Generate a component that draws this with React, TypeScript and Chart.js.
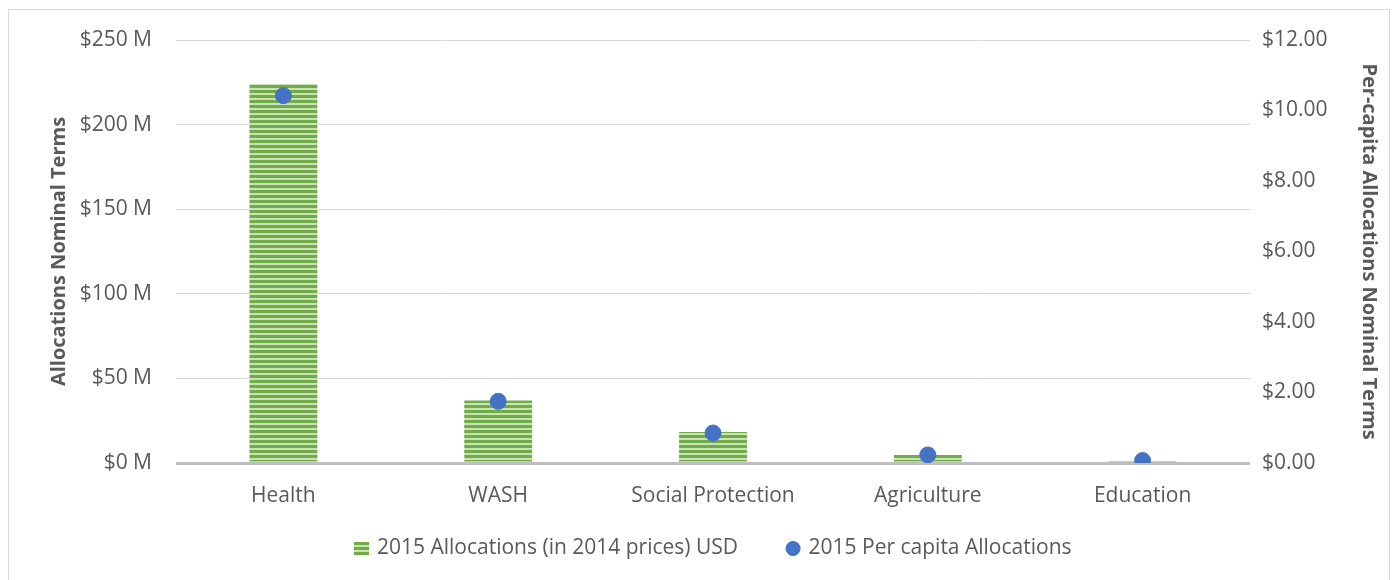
import React, { useEffect, useRef } from "react";
import { Chart, registerables } from "chart.js";

Chart.register(...registerables);

const categories = ["Health", "WASH", "Social Protection", "Agriculture", "Education"];
const allocationsM = [224, 37, 18.3, 4.7, 1.2];
const perCapita = [10.42, 1.75, 0.85, 0.23, 0.07];
const barLabel = "2015 Allocations (in 2014 prices) USD";
const dotLabel = "2015 Per capita Allocations";
const leftTicksM = [0, 50, 100, 150, 200, 250];
const rightTicks = [0, 2, 4, 6, 8, 10, 12];

const FONT = "'Open Sans', sans-serif";
const TEXT = "#595959";
const FS = 21;
const FS_TITLE = 20;

function stripes(w: number, h: number): HTMLCanvasElement {
  const c = document.createElement("canvas");
  c.width = w;
  c.height = h;
  const ctx = c.getContext("2d");
  if (ctx) {
    ctx.fillStyle = "#C9E2B8";
    ctx.fillRect(0, 0, w, h);
    ctx.fillStyle = "#70AD47";
    for (let y = 0; y < h; y += 5) ctx.fillRect(0, y, w, 3);
  }
  return c;
}

function makePattern(): CanvasPattern | string {
  const c = stripes(6, 5);
  const ctx = c.getContext("2d");
  const p = ctx ? ctx.createPattern(c, "repeat") : null;
  return p || "#70AD47";
}

const legendShift = {
  id: "legendShift",
  afterLayout(chart: any) {
    const lg = chart.legend;
    if (!lg) return;
    const pad = lg.options.labels.padding;
    const ih = lg._itemHeight || 14;
    const desiredCenter = 535;
    lg.top = desiredCenter - pad - ih / 2;
    lg.bottom = lg.top + pad + ih + 20;
    lg.height = lg.bottom - lg.top;
    lg.left += 15;
    lg.right += 15;
  },
};

export default function App() {
  const ref = useRef<HTMLCanvasElement>(null);
  useEffect(() => {
    if (!ref.current) return;
    const pattern = makePattern();
    const legendBox = stripes(15, 13);
    const chart = new Chart(ref.current, {
      type: "bar",
      data: {
        labels: categories,
        datasets: [
          {
            type: "line",
            label: dotLabel,
            data: perCapita,
            yAxisID: "y1",
            showLine: false,
            pointRadius: 8,
            pointHoverRadius: 8,
            pointBackgroundColor: "#4472C4",
            pointBorderColor: "#4472C4",
            backgroundColor: "#4472C4",
            borderColor: "#4472C4",
            pointStyle: "circle",
            order: 0,
          } as any,
          {
            type: "bar",
            label: barLabel,
            data: allocationsM,
            yAxisID: "y",
            backgroundColor: pattern as any,
            borderWidth: 0,
            categoryPercentage: 1,
            barPercentage: 0.316,
            pointStyle: legendBox,
            order: 1,
          } as any,
        ],
      },
      plugins: [legendShift],
      options: {
        animation: false,
        responsive: false,
        layout: { padding: { left: 0, right: 0, top: 30, bottom: 10 } },
        plugins: {
          tooltip: { enabled: false },
          legend: {
            position: "bottom",
            reverse: true,
            maxHeight: 60,
            labels: {
              usePointStyle: true,
              color: TEXT,
              font: { family: FONT, size: FS },
              boxWidth: 10,
              boxHeight: 10,
              padding: 50,
            },
          } as any,
        },
        scales: {
          x: {
            grid: { display: false },
            border: { display: false },
            ticks: { color: TEXT, font: { family: FONT, size: FS }, padding: 12 },
            afterFit: (s: any) => {
              s.height = 45;
            },
          },
          y: {
            position: "left",
            min: 0,
            max: 250,
            afterBuildTicks: (s: any) => {
              s.ticks = leftTicksM.map((v) => ({ value: v }));
            },
            ticks: {
              color: TEXT,
              font: { family: FONT, size: FS },
              padding: 12,
              callback: (v: any) => "$" + v + " M",
            },
            grid: {
              color: (ctx: any) => (ctx.tick && ctx.tick.value === 0 ? "#BFBFBF" : "#D9D9D9"),
              lineWidth: (ctx: any) => (ctx.tick && ctx.tick.value === 0 ? 3 : 1),
              drawTicks: true,
              tickLength: 12,
              tickColor: "rgba(0,0,0,0)",
            },
            border: { display: false },
            title: {
              display: true,
              text: "Allocations Nominal Terms",
              color: TEXT,
              font: { family: FONT, size: FS_TITLE, weight: "bold" },
              padding: { top: 38, bottom: 0 },
            },
            afterFit: (s: any) => {
              s.width = 167;
            },
          },
          y1: {
            position: "right",
            min: 0,
            max: 12,
            afterBuildTicks: (s: any) => {
              s.ticks = rightTicks.map((v) => ({ value: v }));
            },
            ticks: {
              color: TEXT,
              font: { family: FONT, size: FS },
              padding: 12,
              callback: (v: any) => "$" + Number(v).toFixed(2),
            },
            grid: { display: false, drawTicks: false },
            border: { display: false },
            title: {
              display: true,
              text: "Per-capita Allocations Nominal Terms",
              color: TEXT,
              font: { family: FONT, size: FS_TITLE, weight: "bold" },
              padding: { top: 8, bottom: 0 },
            },
            afterFit: (s: any) => {
              s.width = 139;
            },
          },
        },
      },
    });
    return () => chart.destroy();
  }, []);
  return (
    <div
      style={{
        width: 1382,
        height: 572,
        marginTop: 1,
        border: "1px solid #D9D9D9",
        boxSizing: "border-box",
        background: "#fff",
        overflow: "hidden",
      }}
    >
      <canvas ref={ref} width={1380} height={568} style={{ display: "block" }} />
    </div>
  );
}
